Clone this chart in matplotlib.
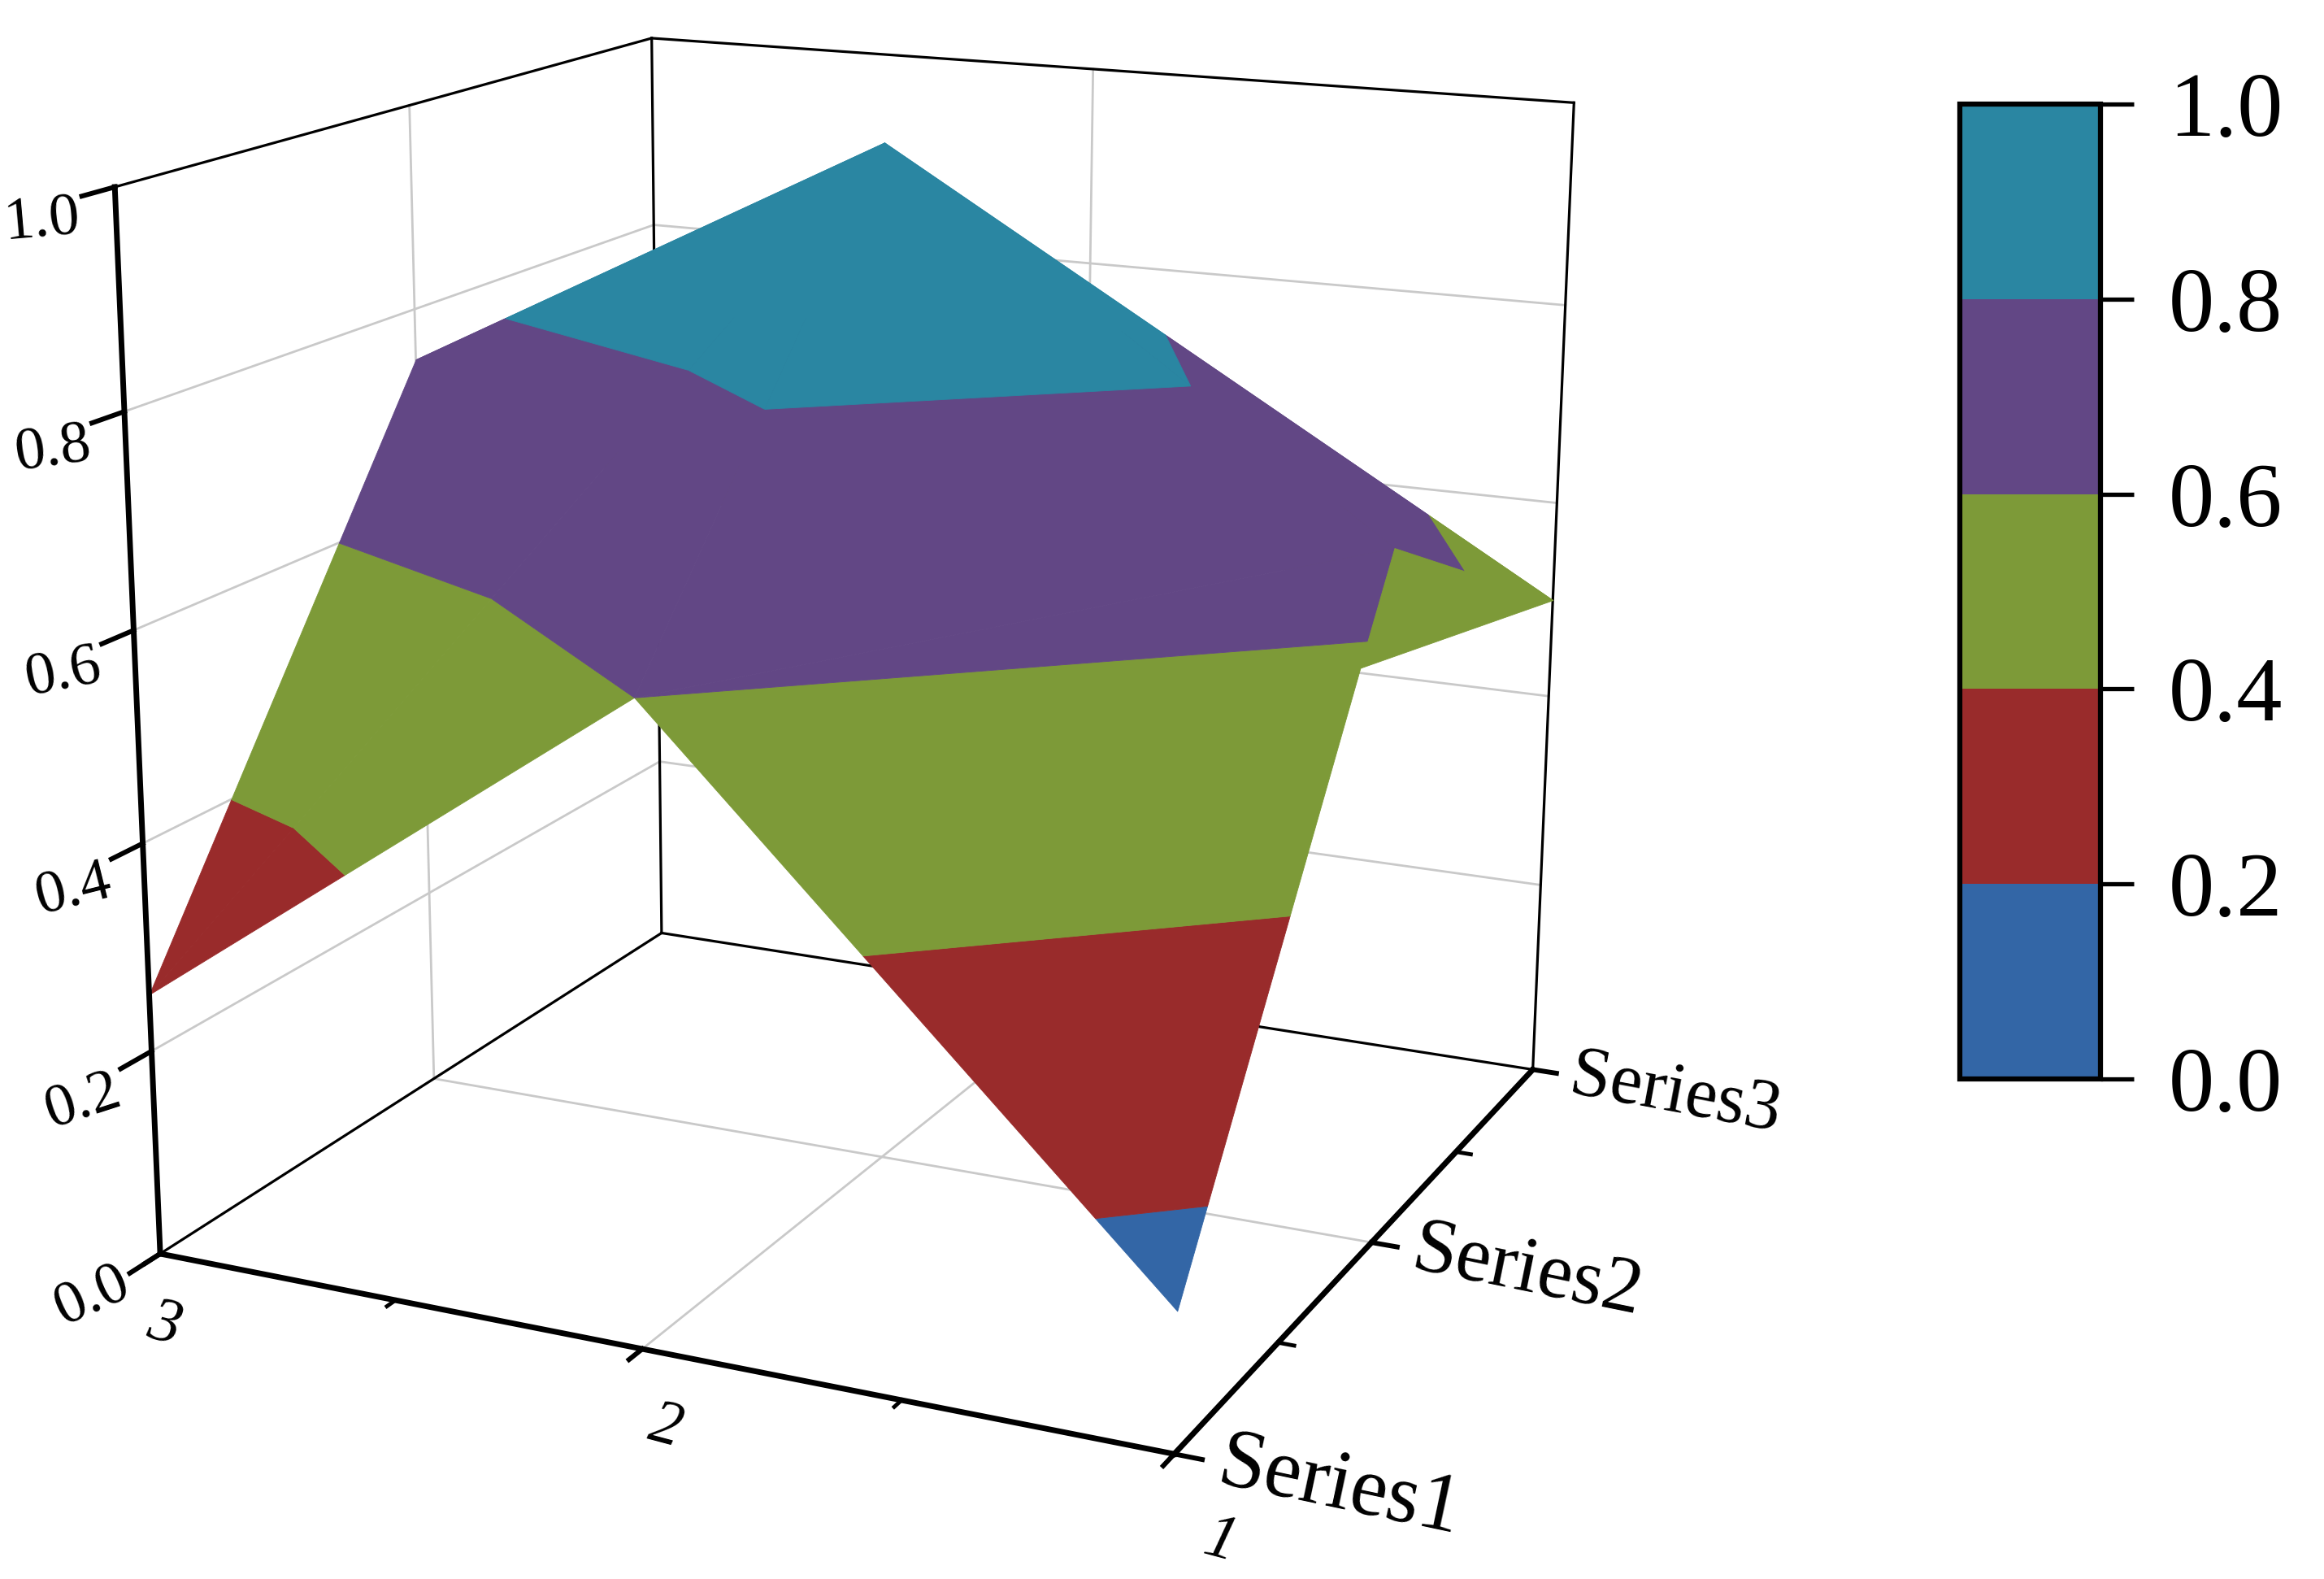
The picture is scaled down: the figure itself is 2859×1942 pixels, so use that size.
import numpy as np
import matplotlib
matplotlib.use("Agg")
import matplotlib.pyplot as plt
from matplotlib.cm import ScalarMappable
from matplotlib.colors import BoundaryNorm, ListedColormap
from mpl_toolkits.mplot3d import proj3d
from mpl_toolkits.mplot3d.art3d import Poly3DCollection

plt.rcParams["font.family"] = ["Liberation Serif", "DejaVu Serif"]

x_vals = [1, 2, 3]
y_vals = [1, 2, 3]
y_names = ["Series1", "Series2", "Series3"]
series1 = [0.13, 0.60, 0.255]
series2 = [0.67, 1.00, 0.75]
series3 = [0.50, 0.50, 0.50]
levels = [0.0, 0.2, 0.4, 0.6, 0.8, 1.0]
band_colors = ["#3366A6", "#992B2B", "#7D9A38", "#624785", "#2A86A2"]
z_ticks = [0.0, 0.2, 0.4, 0.6, 0.8, 1.0]

# sliver on the x=1 side that Origin painted flat in the 0.4-0.6 colour
sliver_y = [1.83, 3, 2]
sliver_z = [0.58, 0.50, 0.67]

W, H = 2859, 1942
z_grid = np.array([series1, series2, series3])

fig = plt.figure(figsize=(W / 100, H / 100), dpi=100)
ax = fig.add_axes([-38.5 / W, -1.0 / H, 2190.6 / W, 2190.6 / H],
                  projection="3d", computed_zorder=False)
ax.set_xlim(3, 1, view_margin=0)
ax.set_ylim(1, 3, view_margin=0)
ax.set_zlim(0, 1, view_margin=0)
ax.view_init(elev=15.747, azim=-65.184, roll=-0.140)
ax.set_proj_type("persp", focal_length=0.4868)
ax.set_box_aspect((1.00966, 1.00846, 1))
ax.set_axis_off()


def clip_band(tri, lo, hi):
    # cut a triangle down to the part with lo <= z <= hi
    poly = [np.array(v, float) for v in tri]
    for lim, sign in ((lo, 1), (hi, -1)):
        out = []
        for a, b in zip(poly, poly[1:] + poly[:1]):
            da, db = sign * (a[2] - lim), sign * (b[2] - lim)
            if da >= 0:
                out.append(a)
            if da * db < 0:
                out.append(a + (b - a) * da / (da - db))
        poly = out
        if not poly:
            break
    return poly


def vert(i, j):
    return (x_vals[i], y_vals[j], z_grid[j, i])


def label(x, y, z, s, **kw):
    # Text3D throws away rotation, so place the label in 2D at the projected point
    u, v, _ = proj3d.proj_transform(x, y, z, ax.get_proj())
    ax.text2D(u, v, s, transform=ax.transData, zorder=201, clip_on=False, **kw)


# back to front
tris = [
    (vert(2, 1), vert(1, 2), vert(2, 2)),
    (vert(2, 1), vert(1, 1), vert(1, 2)),
    (vert(0, 2), vert(1, 2), vert(1, 1)),
    (vert(2, 0), vert(1, 1), vert(2, 1)),
    (vert(0, 1), vert(0, 2), vert(1, 1)),
    (vert(2, 0), vert(1, 0), vert(1, 1)),
    (vert(1, 0), vert(0, 1), vert(1, 1)),
    (vert(1, 0), vert(0, 0), vert(0, 1)),
]

gray = "#c9c9c9"
for z in z_ticks[1:-1]:
    ax.plot([3, 3], [1, 3], [z, z], color=gray, lw=2, zorder=1)
    ax.plot([3, 1], [3, 3], [z, z], color=gray, lw=2, zorder=1)
ax.plot([3, 3], [2, 2], [0, 1], color=gray, lw=2, zorder=1)
ax.plot([2, 2], [3, 3], [0, 1], color=gray, lw=2, zorder=1)
ax.plot([2, 2], [1, 3], [0, 0], color=gray, lw=2, zorder=1)
ax.plot([3, 1], [2, 2], [0, 0], color=gray, lw=2, zorder=1)

for xs, ys, zs in [([3, 3], [1, 3], [0, 0]), ([3, 1], [3, 3], [0, 0]),
                   ([3, 3], [3, 3], [0, 1]), ([1, 1], [3, 3], [0, 1]),
                   ([3, 1], [3, 3], [1, 1]), ([3, 3], [1, 3], [1, 1])]:
    ax.plot(xs, ys, zs, color="black", lw=2.3, zorder=2)

order = 3
for tri in tris:
    for lo, hi, col in zip(levels[:-1], levels[1:], band_colors):
        poly = clip_band(tri, lo, hi)
        if len(poly) >= 3:
            coll = Poly3DCollection([poly], facecolor=col, edgecolor=col, linewidths=0.6, zorder=order)
            ax.add_collection3d(coll, autolim=False)
            order += 1
sliver = list(zip([1, 1, 1], sliver_y, sliver_z))
ax.add_collection3d(Poly3DCollection([sliver], facecolor=band_colors[2], edgecolor=band_colors[2],
                                     linewidths=0.6, zorder=order), autolim=False)

# front axes
ax.plot([3, 3], [1, 1], [0, 1], color="black", lw=5, zorder=200)
ax.plot([3, 1], [1, 1], [0, 0], color="black", lw=5, zorder=200)
ax.plot([1, 1], [1, 3], [0, 0], color="black", lw=5, zorder=200)

z_rot = [24, 18, 14, 11, 8, 5]
z_drop = [0.0, 0.012, 0.012, 0.012, 0.012, 0.012]
for z, rot, drop in zip(z_ticks, z_rot, z_drop):
    ax.plot([3, 3], [1, 0.9], [z, z], color="black", lw=4.3, zorder=200)
    label(3, 0.78, z - drop, f"{z:.1f}", fontsize=54, rotation=rot, ha="center", va="center")
for x in x_vals:
    ax.plot([x, x], [1, 0.95], [0, 0], color="black", lw=4.3, zorder=200)
for x in [1.5, 2.5]:
    ax.plot([x, x], [1, 0.97], [0, 0], color="black", lw=3.5, zorder=200)
for y, name, size, rot in zip(y_vals, y_names, [74, 70, 64], [-12, -11.5, -10.5]):
    ax.plot([1, 0.95], [y, y], [0, 0], color="black", lw=4.3, zorder=200)
    label(0.92, y, 0, name, fontsize=size, rotation=rot, ha="left", va="center", rotation_mode="anchor")
for y in [1.5, 2.5]:
    ax.plot([1, 0.97], [y, y], [0, 0], color="black", lw=3.5, zorder=200)
for x in x_vals:
    label(x - 0.185, 0.73, 0, str(x), fontsize=56, style="italic", rotation=-15, ha="center", va="center")

cax = fig.add_axes([2411 / W, (H - 1327) / H, 173 / W, 1199 / H])
sm = ScalarMappable(norm=BoundaryNorm(levels, len(band_colors)), cmap=ListedColormap(band_colors))
cb = fig.colorbar(sm, cax=cax, ticks=levels, spacing="proportional", drawedges=False)
cb.outline.set_linewidth(4.5)
cb.ax.minorticks_off()
cb.ax.tick_params(length=29.5, width=3.8, pad=31, labelsize=81)
cb.ax.set_yticklabels([f"{v:.1f}" for v in levels])

fig.savefig("out.png", dpi=100)
